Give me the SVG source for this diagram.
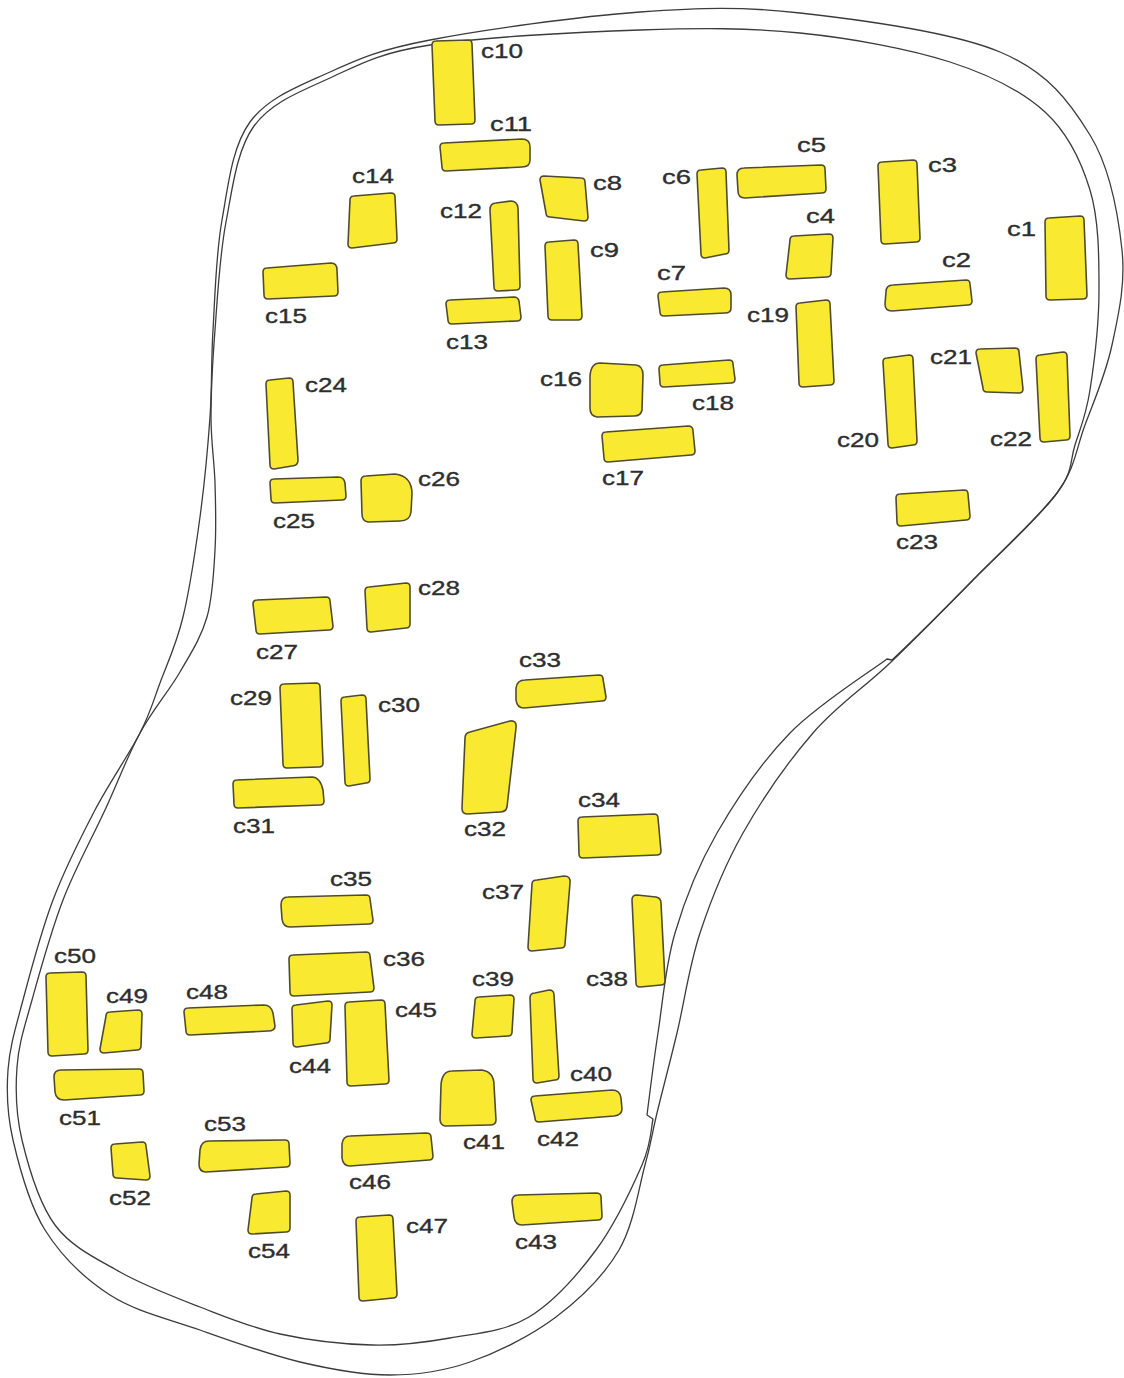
<svg xmlns="http://www.w3.org/2000/svg" width="1124" height="1378" viewBox="0 0 1124 1378">
<style>
.b{fill:#f9e930;stroke:#4f4c2e;stroke-width:1.6;stroke-linejoin:round}
.l{font-family:"Liberation Sans",Arial,sans-serif;font-size:20px;fill:#2e2e2e;stroke:#2e2e2e;stroke-width:0.35}
.o{fill:none;stroke:#3c3c3c;stroke-width:1.3;stroke-linejoin:round}
</style>
<rect width="1124" height="1378" fill="#fff"/>
<g id="outline">
<path class="o" d="M250,122 C268,97.3 300,85.7 330,72 C360,58.3 378.3,50 430,40 C481.7,30 578.3,16.5 640,12 C701.7,7.5 740,6.3 800,13 C860,19.7 951.7,31.7 1000,52 C1048.3,72.3 1069.7,102 1090,135 C1110.3,168 1118.3,215 1122,250 C1125.7,285 1118.2,315.8 1112,345 C1105.8,374.2 1094.2,400.3 1085,425 C1075.8,449.7 1075.7,467.2 1057,493 C1038.3,518.8 1000.8,551.7 973,580 C945.2,608.3 916.7,637.5 890,663 C863.3,688.5 837.5,704.7 813,733 C788.5,761.3 761.8,799.7 743,833 C724.2,866.3 711,899.7 700,933 C689,966.3 684.2,1003 677,1033 C669.8,1063 662.3,1091 657,1113 C651.7,1135 651.3,1142.2 645,1165 C638.7,1187.8 633.8,1224.7 619,1250 C604.2,1275.3 580.8,1298.3 556,1317 C531.2,1335.7 497.7,1352.3 470,1362 C442.3,1371.7 418.3,1375 390,1375 C361.7,1375 331.7,1369.5 300,1362 C268.3,1354.5 231.7,1341.2 200,1330 C168.3,1318.8 135.8,1311.7 110,1295 C84.2,1278.3 61.2,1255.8 45,1230 C28.8,1204.2 19.2,1166.7 13,1140 C6.8,1113.3 6.3,1093.3 8,1070 C9.7,1046.7 15.5,1028.3 23,1000 C30.5,971.7 41,931.7 53,900 C65,868.3 80.5,837.8 95,810 C109.5,782.2 129.2,754.2 140,733 C150.8,711.8 152.8,702.3 160,683 C167.2,663.7 176.3,644.7 183,617 C189.7,589.3 195.5,550.3 200,517 C204.5,483.7 207.8,448.2 210,417 C212.2,385.8 211,362.8 213,330 C215,297.2 215.8,254.7 222,220 C228.2,185.3 232,146.7 250,122 Z"/>
<path class="o" d="M653,1119 C651.2,1126.7 651.5,1143.2 642,1165 C632.5,1186.8 614.8,1224.7 596,1250 C577.2,1275.3 553.3,1302.3 529,1317 C504.7,1331.7 476.2,1333.3 450,1338 C423.8,1342.7 400.3,1345.7 372,1345 C343.7,1344.3 308.7,1340.3 280,1334 C251.3,1327.7 226.7,1317.3 200,1307 C173.3,1296.7 144.2,1285.7 120,1272 C95.8,1258.3 71.3,1247 55,1225 C38.7,1203 28.3,1166.3 22,1140 C15.7,1113.7 15.3,1090.3 17,1067 C18.7,1043.7 24.3,1027.8 32,1000 C39.7,972.2 50.8,931.7 63,900 C75.2,868.3 92.2,837.8 105,810 C117.8,782.2 127.5,756 140,733 C152.5,710 168.8,691.3 180,672 C191.2,652.7 201.2,637.3 207,617 C212.8,596.7 213.7,572.3 215,550 C216.3,527.7 215.7,505.2 215,483 C214.3,460.8 211,442.5 211,417 C211,391.5 212.5,362.5 215,330 C217.5,297.5 219.5,256 226,222 C232.5,188 236.7,150 254,126 C271.3,102 300.7,91.5 330,78 C359.3,64.5 378.3,53 430,45 C481.7,37 578.3,32 640,30 C701.7,28 748.3,27.7 800,33 C851.7,38.3 909.2,48.8 950,62 C990.8,75.2 1021.7,90.7 1045,112 C1068.3,133.3 1081,160.3 1090,190 C1099,219.7 1099,256.7 1099,290 C1099,323.3 1094,364.2 1090,390 C1086,415.8 1080.5,427.8 1075,445 C1069.5,462.2 1073.7,470.8 1057,493 C1040.3,515.2 1002.3,550.2 975,578 C947.7,605.8 906.7,646.3 892,660 L887,659 C870.8,671.3 818.3,704 790,733 C761.7,762 736.2,799.7 717,833 C697.8,866.3 684.8,899.7 675,933 C665.2,966.3 662.7,1002.7 658,1033 C653.3,1063.3 648.8,1101.3 647,1115 Z"/>
</g>
<g id="c1"><path class="b" d="M1049,218 L1080,216 Q1084,216 1084,220 L1087,295 Q1087,299 1083,299 L1050,300 Q1046,300 1046,296 L1045,222 Q1045,218 1049,218 Z"/><text class="l" x="1007" y="236" textLength="29" lengthAdjust="spacingAndGlyphs">c1</text></g>
<g id="c2"><path class="b" d="M893,285 L966,280 Q970,280 970,284 L972,301 Q972,305 968,305 L892,311 Q885,311 885,304 L886,292 Q886,285 893,285 Z"/><text class="l" x="942" y="267" textLength="29" lengthAdjust="spacingAndGlyphs">c2</text></g>
<g id="c3"><path class="b" d="M882,162 L913,160 Q917,160 917,164 L920,238 Q920,242 916,242 L885,244 Q881,244 881,240 L878,166 Q878,162 882,162 Z"/><text class="l" x="928" y="172" textLength="29" lengthAdjust="spacingAndGlyphs">c3</text></g>
<g id="c4"><path class="b" d="M794,236 L829,234 Q833,234 833,238 L831,273 Q831,277 827,277 L790,279 Q786,279 786,275 L790,240 Q790,236 794,236 Z"/><text class="l" x="806" y="223" textLength="29" lengthAdjust="spacingAndGlyphs">c4</text></g>
<g id="c5"><path class="b" d="M744,168 L821,165 Q825,165 825,169 L826,189 Q826,193 822,193 L745,198 Q738,198 738,191 L737,175 Q737,168 744,168 Z"/><text class="l" x="797" y="152" textLength="29" lengthAdjust="spacingAndGlyphs">c5</text></g>
<g id="c6"><path class="b" d="M701,170 L722,168 Q726,168 726,172 L729,250 Q729,254 725,254 L705,258 Q701,258 701,254 L697,174 Q697,170 701,170 Z"/><text class="l" x="662" y="184" textLength="29" lengthAdjust="spacingAndGlyphs">c6</text></g>
<g id="c7"><path class="b" d="M662,292 L724,288 Q731,288 731,295 L731,308 Q731,313 725,313 L664,316 Q660,316 660,312 L658,296 Q658,292 662,292 Z"/><text class="l" x="657" y="280" textLength="29" lengthAdjust="spacingAndGlyphs">c7</text></g>
<g id="c8"><path class="b" d="M544,176 L581,178 Q585,178 585,182 L588,217 Q588,221 584,221 L550,217 Q546,217 546,213 L540,180 Q540,176 544,176 Z"/><text class="l" x="593" y="190" textLength="29" lengthAdjust="spacingAndGlyphs">c8</text></g>
<g id="c9"><path class="b" d="M549,242 L574,240 Q578,240 578,244 L582,316 Q582,320 578,320 L552,320 Q548,320 548,316 L545,246 Q545,242 549,242 Z"/><text class="l" x="590" y="257" textLength="29" lengthAdjust="spacingAndGlyphs">c9</text></g>
<g id="c10"><path class="b" d="M436,41 L468,40 Q472,40 472,44 L475,120 Q475,124 471,124 L439,125 Q435,125 435,121 L432,45 Q432,41 436,41 Z"/><text class="l" x="481" y="58" textLength="42" lengthAdjust="spacingAndGlyphs">c10</text></g>
<g id="c11"><path class="b" d="M444,143 L522,139 Q530,139 530,147 L530,160 Q530,167 522,167 L446,171 Q442,171 442,167 L440,147 Q440,143 444,143 Z"/><text class="l" x="490" y="131" textLength="42" lengthAdjust="spacingAndGlyphs">c11</text></g>
<g id="c12"><path class="b" d="M496,203 L511,201 Q517,201 518,208 L520,286 Q520,290 516,290 L498,291 Q494,291 494,287 L490,210 Q490,203 496,203 Z"/><text class="l" x="440" y="218" textLength="42" lengthAdjust="spacingAndGlyphs">c12</text></g>
<g id="c13"><path class="b" d="M450,300 L514,297 Q518,297 519,301 L521,317 Q521,321 517,321 L452,324 Q448,324 448,320 L446,304 Q446,300 450,300 Z"/><text class="l" x="446" y="349" textLength="42" lengthAdjust="spacingAndGlyphs">c13</text></g>
<g id="c14"><path class="b" d="M354,196 L391,193 Q395,193 395,197 L397,239 Q397,243 393,243 L352,248 Q348,248 348,244 L350,200 Q350,196 354,196 Z"/><text class="l" x="352" y="183" textLength="42" lengthAdjust="spacingAndGlyphs">c14</text></g>
<g id="c15"><path class="b" d="M267,268 L331,263 Q337,263 337,270 L338,292 Q338,296 334,296 L268,299 Q264,299 264,295 L263,272 Q263,268 267,268 Z"/><text class="l" x="265" y="323" textLength="42" lengthAdjust="spacingAndGlyphs">c15</text></g>
<g id="c16"><path class="b" d="M600,363 L636,365 Q643,366 643,375 L642,410 Q641,416 634,416 L597,417 Q590,416 590,408 L590,376 Q591,363 600,363 Z"/><text class="l" x="540" y="386" textLength="42" lengthAdjust="spacingAndGlyphs">c16</text></g>
<g id="c17"><path class="b" d="M606,432 L688,426 Q693,426 693,431 L695,451 Q695,455 691,455 L608,462 Q604,462 604,458 L602,436 Q602,432 606,432 Z"/><text class="l" x="602" y="485" textLength="42" lengthAdjust="spacingAndGlyphs">c17</text></g>
<g id="c18"><path class="b" d="M663,365 L729,360 Q733,360 733,364 L735,379 Q735,383 731,383 L664,387 Q660,387 660,383 L659,369 Q659,365 663,365 Z"/><text class="l" x="692" y="410" textLength="42" lengthAdjust="spacingAndGlyphs">c18</text></g>
<g id="c19"><path class="b" d="M800,303 L826,300 Q830,300 830,304 L834,381 Q834,385 830,385 L803,387 Q799,387 799,383 L796,307 Q796,303 800,303 Z"/><text class="l" x="747" y="322" textLength="42" lengthAdjust="spacingAndGlyphs">c19</text></g>
<g id="c20"><path class="b" d="M887,358 L909,355 Q913,355 913,359 L917,441 Q917,445 913,445 L892,448 Q888,448 888,444 L883,362 Q883,358 887,358 Z"/><text class="l" x="837" y="447" textLength="42" lengthAdjust="spacingAndGlyphs">c20</text></g>
<g id="c21"><path class="b" d="M980,349 L1015,348 Q1019,348 1019,352 L1023,389 Q1023,393 1019,393 L987,392 Q983,392 983,388 L976,353 Q976,349 980,349 Z"/><text class="l" x="930" y="364" textLength="42" lengthAdjust="spacingAndGlyphs">c21</text></g>
<g id="c22"><path class="b" d="M1040,355 L1063,352 Q1067,352 1067,356 L1070,436 Q1070,440 1066,440 L1044,442 Q1040,442 1040,438 L1036,359 Q1036,355 1040,355 Z"/><text class="l" x="990" y="446" textLength="42" lengthAdjust="spacingAndGlyphs">c22</text></g>
<g id="c23"><path class="b" d="M900,494 L964,490 Q968,490 968,494 L970,516 Q970,520 966,520 L901,526 Q897,526 897,522 L896,498 Q896,494 900,494 Z"/><text class="l" x="896" y="549" textLength="42" lengthAdjust="spacingAndGlyphs">c23</text></g>
<g id="c24"><path class="b" d="M270,380 L289,378 Q293,378 293,382 L298,460 Q298,466 292,466 L274,469 Q270,469 270,465 L266,384 Q266,380 270,380 Z"/><text class="l" x="305" y="392" textLength="42" lengthAdjust="spacingAndGlyphs">c24</text></g>
<g id="c25"><path class="b" d="M274,479 L338,477 Q344,477 345,483 L346,496 Q346,500 342,500 L275,503 Q271,503 271,499 L270,483 Q270,479 274,479 Z"/><text class="l" x="273" y="528" textLength="42" lengthAdjust="spacingAndGlyphs">c25</text></g>
<g id="c26"><path class="b" d="M366,476 L395,474 Q412,476 412,494 L411,512 Q410,521 400,521 L368,522 Q362,521 362,514 L361,481 Q361,476 366,476 Z"/><text class="l" x="418" y="486" textLength="42" lengthAdjust="spacingAndGlyphs">c26</text></g>
<g id="c27"><path class="b" d="M257,600 L326,597 Q330,597 330,601 L333,626 Q333,630 329,630 L260,634 Q256,634 256,630 L253,604 Q253,600 257,600 Z"/><text class="l" x="256" y="659" textLength="42" lengthAdjust="spacingAndGlyphs">c27</text></g>
<g id="c28"><path class="b" d="M369,587 L406,583 Q410,583 410,587 L410,624 Q410,628 406,628 L371,632 Q367,632 367,628 L365,591 Q365,587 369,587 Z"/><text class="l" x="418" y="595" textLength="42" lengthAdjust="spacingAndGlyphs">c28</text></g>
<g id="c29"><path class="b" d="M284,684 L316,683 Q320,683 320,687 L323,763 Q323,767 319,767 L287,768 Q283,768 283,764 L280,688 Q280,684 284,684 Z"/><text class="l" x="230" y="705" textLength="42" lengthAdjust="spacingAndGlyphs">c29</text></g>
<g id="c30"><path class="b" d="M345,697 L362,695 Q366,695 366,699 L370,779 Q370,783 366,783 L349,786 Q345,786 345,782 L341,701 Q341,697 345,697 Z"/><text class="l" x="378" y="712" textLength="42" lengthAdjust="spacingAndGlyphs">c30</text></g>
<g id="c31"><path class="b" d="M237,780 L312,777 Q320,777 323,790 L324,801 Q324,805 320,805 L238,808 Q234,808 234,804 L233,784 Q233,780 237,780 Z"/><text class="l" x="233" y="833" textLength="42" lengthAdjust="spacingAndGlyphs">c31</text></g>
<g id="c32"><path class="b" d="M470,732 L510,721 Q517,720 516,728 L507,807 Q506,812 500,812 L467,814 Q462,814 462,808 L465,738 Q465,733 470,732 Z"/><text class="l" x="464" y="836" textLength="42" lengthAdjust="spacingAndGlyphs">c32</text></g>
<g id="c33"><path class="b" d="M525,680 L599,675 Q603,675 603,679 L606,697 Q606,701 602,701 L524,708 Q517,708 516,700 L516,688 Q517,680 525,680 Z"/><text class="l" x="519" y="667" textLength="42" lengthAdjust="spacingAndGlyphs">c33</text></g>
<g id="c34"><path class="b" d="M582,817 L654,814 Q658,814 658,818 L661,851 Q661,855 657,855 L583,858 Q579,858 579,854 L578,821 Q578,817 582,817 Z"/><text class="l" x="578" y="807" textLength="42" lengthAdjust="spacingAndGlyphs">c34</text></g>
<g id="c35"><path class="b" d="M288,897 L366,895 Q370,895 370,899 L373,920 Q373,924 369,924 L290,927 Q283,927 282,919 L281,905 Q281,897 288,897 Z"/><text class="l" x="330" y="886" textLength="42" lengthAdjust="spacingAndGlyphs">c35</text></g>
<g id="c36"><path class="b" d="M293,955 L366,952 Q370,952 370,956 L374,988 Q374,992 370,992 L294,996 Q290,996 290,992 L289,959 Q289,955 293,955 Z"/><text class="l" x="383" y="966" textLength="42" lengthAdjust="spacingAndGlyphs">c36</text></g>
<g id="c37"><path class="b" d="M537,880 L564,876 Q571,876 570,883 L565,944 Q565,948 561,948 L532,951 Q528,951 528,947 L532,884 Q532,880 537,880 Z"/><text class="l" x="482" y="899" textLength="42" lengthAdjust="spacingAndGlyphs">c37</text></g>
<g id="c38"><path class="b" d="M637,895 L656,897 Q661,898 661,903 L665,981 Q665,985 661,985 L640,987 Q636,987 636,983 L632,900 Q632,895 637,895 Z"/><text class="l" x="586" y="986" textLength="42" lengthAdjust="spacingAndGlyphs">c38</text></g>
<g id="c39"><path class="b" d="M479,997 L510,995 Q514,995 514,999 L512,1032 Q512,1036 508,1036 L476,1038 Q472,1038 472,1034 L475,1001 Q475,997 479,997 Z"/><text class="l" x="472" y="986" textLength="42" lengthAdjust="spacingAndGlyphs">c39</text></g>
<g id="c40"><path class="b" d="M535,993 L549,990 Q554,990 554,995 L559,1076 Q559,1080 555,1080 L537,1083 Q533,1083 533,1079 L530,998 Q530,993 535,993 Z"/><text class="l" x="570" y="1081" textLength="42" lengthAdjust="spacingAndGlyphs">c40</text></g>
<g id="c41"><path class="b" d="M452,1071 L482,1070 Q494,1072 494,1085 L496,1120 Q496,1125 490,1125 L445,1126 Q440,1125 440,1119 L441,1085 Q442,1071 452,1071 Z"/><text class="l" x="463" y="1149" textLength="42" lengthAdjust="spacingAndGlyphs">c41</text></g>
<g id="c42"><path class="b" d="M535,1096 L612,1090 Q620,1090 621,1098 L622,1109 Q622,1115 614,1116 L539,1122 Q535,1122 535,1118 L531,1100 Q531,1096 535,1096 Z"/><text class="l" x="537" y="1146" textLength="42" lengthAdjust="spacingAndGlyphs">c42</text></g>
<g id="c43"><path class="b" d="M518,1195 L596,1193 Q601,1193 601,1197 L602,1216 Q602,1220 598,1220 L522,1225 Q515,1225 514,1217 L512,1202 Q512,1195 518,1195 Z"/><text class="l" x="515" y="1249" textLength="42" lengthAdjust="spacingAndGlyphs">c43</text></g>
<g id="c44"><path class="b" d="M296,1005 L328,1001 Q332,1001 332,1005 L330,1039 Q330,1043 326,1043 L297,1047 Q293,1047 293,1043 L292,1009 Q292,1005 296,1005 Z"/><text class="l" x="289" y="1073" textLength="42" lengthAdjust="spacingAndGlyphs">c44</text></g>
<g id="c45"><path class="b" d="M349,1002 L381,1000 Q385,1000 385,1004 L389,1080 Q389,1084 385,1084 L351,1086 Q347,1086 347,1082 L345,1006 Q345,1002 349,1002 Z"/><text class="l" x="395" y="1017" textLength="42" lengthAdjust="spacingAndGlyphs">c45</text></g>
<g id="c46"><path class="b" d="M350,1136 L426,1133 Q431,1133 431,1137 L433,1156 Q433,1160 429,1160 L350,1166 Q343,1166 342,1158 L342,1144 Q343,1136 350,1136 Z"/><text class="l" x="349" y="1189" textLength="42" lengthAdjust="spacingAndGlyphs">c46</text></g>
<g id="c47"><path class="b" d="M360,1217 L389,1215 Q393,1215 393,1219 L397,1294 Q397,1298 393,1298 L363,1301 Q359,1301 359,1297 L356,1221 Q356,1217 360,1217 Z"/><text class="l" x="406" y="1233" textLength="42" lengthAdjust="spacingAndGlyphs">c47</text></g>
<g id="c48"><path class="b" d="M188,1008 L264,1005 Q271,1005 273,1013 L275,1026 Q275,1031 268,1031 L190,1035 Q186,1035 186,1031 L184,1012 Q184,1008 188,1008 Z"/><text class="l" x="186" y="999" textLength="42" lengthAdjust="spacingAndGlyphs">c48</text></g>
<g id="c49"><path class="b" d="M110,1012 L138,1010 Q142,1010 142,1014 L141,1046 Q141,1050 137,1050 L104,1053 Q100,1053 100,1049 L106,1016 Q106,1012 110,1012 Z"/><text class="l" x="106" y="1003" textLength="42" lengthAdjust="spacingAndGlyphs">c49</text></g>
<g id="c50"><path class="b" d="M50,973 L82,972 Q86,972 86,976 L88,1050 Q88,1054 84,1054 L52,1056 Q48,1056 48,1052 L46,977 Q46,973 50,973 Z"/><text class="l" x="54" y="963" textLength="42" lengthAdjust="spacingAndGlyphs">c50</text></g>
<g id="c51"><path class="b" d="M61,1070 L139,1069 Q143,1069 143,1073 L144,1091 Q144,1095 140,1095 L64,1100 Q56,1100 55,1092 L54,1077 Q54,1070 61,1070 Z"/><text class="l" x="59" y="1125" textLength="42" lengthAdjust="spacingAndGlyphs">c51</text></g>
<g id="c52"><path class="b" d="M115,1144 L142,1142 Q146,1142 146,1146 L150,1176 Q150,1180 146,1180 L117,1178 Q113,1178 113,1174 L111,1148 Q111,1144 115,1144 Z"/><text class="l" x="109" y="1205" textLength="42" lengthAdjust="spacingAndGlyphs">c52</text></g>
<g id="c53"><path class="b" d="M209,1141 L285,1140 Q289,1140 289,1144 L290,1163 Q290,1167 286,1167 L206,1172 Q199,1172 199,1164 L200,1150 Q201,1141 209,1141 Z"/><text class="l" x="204" y="1131" textLength="42" lengthAdjust="spacingAndGlyphs">c53</text></g>
<g id="c54"><path class="b" d="M256,1194 L286,1191 Q290,1191 290,1195 L290,1228 Q290,1232 286,1232 L252,1234 Q248,1234 248,1230 L252,1198 Q252,1194 256,1194 Z"/><text class="l" x="248" y="1258" textLength="42" lengthAdjust="spacingAndGlyphs">c54</text></g>
</svg>
